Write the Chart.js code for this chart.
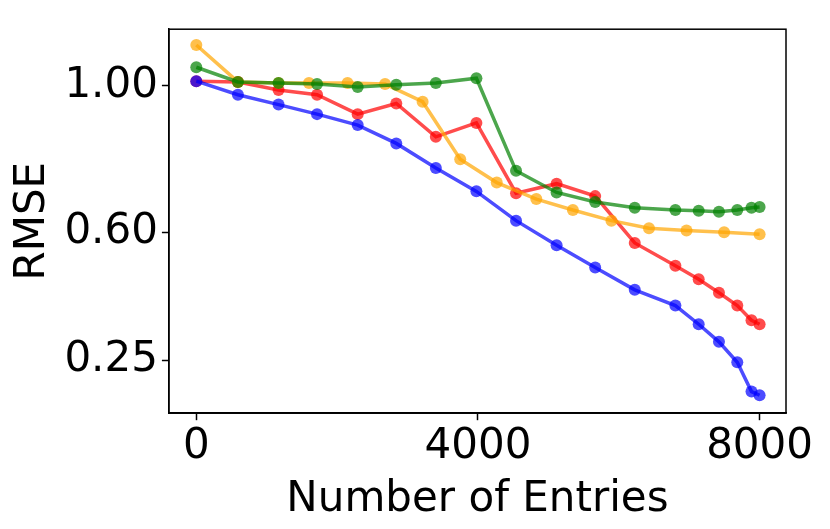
<!DOCTYPE html>
<html><head>
<script src="https://cdn.jsdelivr.net/npm/chart.js@4/dist/chart.umd.min.js"></script>
<style>html,body{margin:0;background:#fff}#wrap{width:830px;height:529px}</style>
</head><body><div id="wrap"><canvas id="c"></canvas></div>
<script>
// x positions (number of entries)
const entriesA = [0,591,1168,1715,2292,2840,3402,3978,4541,5117,5665,6227,6804,7135,7423,7683,7885,8000];
const entriesOrange = [0,591,1168,1600,2148,2681,3214,3748,4267,4829,5348,5896,6429,6962,7496,8000];
// RMSE per series
const rmseBlue = [1.013,0.976,0.949,0.923,0.893,0.843,0.776,0.712,0.632,0.565,0.504,0.443,0.400,0.349,0.301,0.245,0.165,0.155];
const rmseRed = [1.013,1.011,0.989,0.976,0.923,0.952,0.861,0.899,0.707,0.733,0.699,0.571,0.509,0.472,0.435,0.400,0.360,0.349];
const rmseGreen = [1.051,1.011,1.008,1.005,0.997,1.003,1.008,1.021,0.768,0.709,0.683,0.667,0.661,0.659,0.656,0.661,0.667,0.669];
const rmseOrange = [1.112,1.011,1.008,1.008,1.008,1.005,0.957,0.800,0.736,0.691,0.661,0.632,0.611,0.605,0.600,0.595];
const xTicks = [0,4000,8000];
const yTicks = [0.25,0.60,1.00];

const pts = (xs, ys) => xs.map((x, i) => ({x, y: ys[i]}));
const series = (data, color) => ({
  data, borderColor: color, backgroundColor: color, showLine: true,
  borderWidth: 3.5, pointRadius: 6, pointBorderWidth: 0, tension: 0,
});
const font = { family: 'DejaVu Sans', size: 42 };

new Chart(document.getElementById('c'), {
  type: 'scatter',
  data: { datasets: [
    series(pts(entriesA, rmseBlue), 'rgba(0,0,255,0.7)'),
    series(pts(entriesA, rmseGreen), 'rgba(0,128,0,0.7)'),
    series(pts(entriesOrange, rmseOrange), 'rgba(255,165,0,0.7)'),
    series(pts(entriesA, rmseRed), 'rgba(255,0,0,0.7)'),
  ]},
  options: {
    responsive: true, maintainAspectRatio: false, animation: false,
    layout: { padding: { top: 2, right: 44, left: 6, bottom: 4 } },
    plugins: { legend: { display: false }, tooltip: { enabled: false } },
    scales: {
      x: {
        type: 'linear', min: -389, max: 8375,
        afterBuildTicks: s => { s.ticks = xTicks.map(v => ({value: v})); },
        grid: { drawOnChartArea: false, tickLength: 7, color: '#000', tickWidth: 1.5 },
        border: { color: '#000', width: 1.5 },
        ticks: { color: '#000', font, padding: 2, callback: v => String(v) },
        title: { display: true, text: 'Number of Entries', color: '#000', font, padding: 0 },
      },
      y: {
        min: 0.106, max: 1.155,
        afterBuildTicks: s => { s.ticks = yTicks.map(v => ({value: v})); },
        grid: { drawOnChartArea: false, tickLength: 7, color: '#000', tickWidth: 1.5 },
        border: { color: '#000', width: 1.5 },
        ticks: { color: '#000', font, callback: v => v.toFixed(2), padding: 4 },
        title: { display: true, text: 'RMSE', color: '#000', font, padding: 2 },
      },
    },
  },
  plugins: [{
    id: 'frame',
    afterDraw(c) {
      const {ctx, chartArea: a} = c;
      ctx.save(); ctx.strokeStyle = '#000'; ctx.lineWidth = 1.5;
      ctx.strokeRect(a.left, a.top, a.right - a.left, a.bottom - a.top);
      ctx.restore();
    }
  }]
});
</script></body></html>
